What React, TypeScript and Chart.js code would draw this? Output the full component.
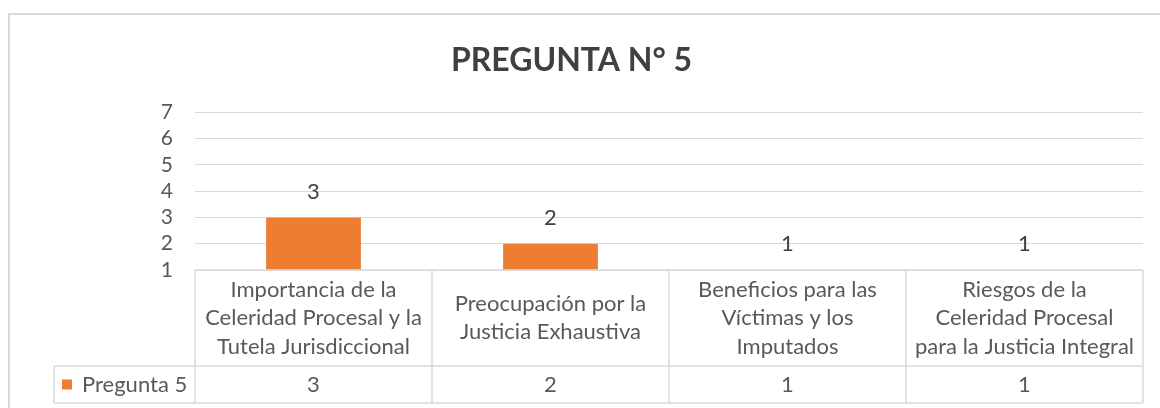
import React, { useEffect, useRef } from "react";
import { Chart, registerables } from "chart.js";

Chart.register(...registerables);

const titleText = "PREGUNTA N° 5";
const seriesName = "Pregunta 5";
const categories: string[][] = [
  ["Importancia de la", "Celeridad Procesal y la", "Tutela Jurisdiccional"],
  ["Preocupación por la", "Justicia Exhaustiva"],
  ["Beneficios para las", "Víctimas y los", "Imputados"],
  ["Riesgos de la", "Celeridad Procesal", "para la Justicia Integral"],
];
const values = [3, 2, 1, 1];
const yMin = 1;
const yMax = 7;
const yStep = 1;

const BAR_COLOR = "#ED7D31";
const TEXT = "#595959";
const LINE = "#d9d9d9";
const FONT = "Lato, 'Open Sans', sans-serif";

const tablePlugin = {
  id: "tablePlugin",
  afterDraw(chart: any) {
    const ctx = chart.ctx;
    const area = chart.chartArea;
    const xs = chart.scales.x;
    const n = categories.length;
    const cw = (area.right - area.left) / n;
    const headTop = area.bottom;
    const rowTop = headTop + 96;
    const rowBottom = rowTop + 37;
    const legendLeft = 54;

    ctx.save();
    // outer chart border
    ctx.strokeStyle = LINE;
    ctx.lineWidth = 2;
    ctx.strokeRect(9, 14, 1170, 420);

    // data labels
    const meta = chart.getDatasetMeta(0);
    ctx.fillStyle = "#404040";
    ctx.font = `22px ${FONT}`;
    ctx.textAlign = "center";
    ctx.textBaseline = "middle";
    meta.data.forEach((bar: any, i: number) => {
      ctx.fillText(String(values[i]), bar.x, bar.y - 26);
    });

    // table lines
    ctx.strokeStyle = LINE;
    ctx.lineWidth = 1.5;
    ctx.beginPath();
    ctx.moveTo(area.left, headTop);
    ctx.lineTo(area.right, headTop);
    ctx.moveTo(legendLeft, rowTop);
    ctx.lineTo(area.right, rowTop);
    ctx.moveTo(legendLeft, rowBottom);
    ctx.lineTo(area.right, rowBottom);
    ctx.moveTo(legendLeft, rowTop);
    ctx.lineTo(legendLeft, rowBottom);
    for (let i = 0; i <= n; i++) {
      const x = Math.round(i < n ? xs.getPixelForValue(i) - cw / 2 : xs.getPixelForValue(n - 1) + cw / 2);
      ctx.moveTo(x, headTop);
      ctx.lineTo(x, rowBottom);
    }
    ctx.stroke();

    // header text
    ctx.fillStyle = TEXT;
    ctx.font = `22px ${FONT}`;
    const lh = 28.5;
    const headMid = (headTop + rowTop) / 2;
    categories.forEach((lines, i) => {
      const cx = xs.getPixelForValue(i);
      const y0 = headMid - ((lines.length - 1) * lh) / 2;
      lines.forEach((l, j) => ctx.fillText(l, cx, y0 + j * lh));
    });

    // values row
    const rowMid = (rowTop + rowBottom) / 2;
    values.forEach((v, i) => {
      ctx.fillText(String(v), xs.getPixelForValue(i), rowMid);
    });

    // legend cell
    ctx.fillStyle = BAR_COLOR;
    ctx.fillRect(62, rowMid - 5, 10, 10);
    ctx.fillStyle = TEXT;
    ctx.textAlign = "left";
    ctx.font = `22px ${FONT}`;
    ctx.fillText(seriesName, 82, rowMid);
    ctx.restore();
  },
};

export default function App() {
  const ref = useRef<HTMLCanvasElement | null>(null);
  useEffect(() => {
    if (!ref.current) return;
    Chart.defaults.font.family = FONT;
    const chart = new Chart(ref.current, {
      type: "bar",
      data: {
        labels: categories,
        datasets: [
          {
            label: seriesName,
            data: values,
            backgroundColor: BAR_COLOR,
            barPercentage: 0.4,
            categoryPercentage: 1,
          },
        ],
      },
      options: {
        animation: false,
        responsive: false,
        layout: { padding: { left: 0, right: 17, top: 0, bottom: 0 } },
        plugins: {
          legend: { display: false },
          tooltip: { enabled: false },
          title: {
            display: true,
            text: titleText,
            color: "#404040",
            font: { family: FONT, size: 32, weight: "bold", lineHeight: 1.2 },
            padding: { top: 41, bottom: 33 },
          },
        },
        scales: {
          x: {
            grid: { display: false },
            border: { display: false },
            ticks: { display: false },
            afterFit: (s: any) => {
              s.height = 138;
            },
          },
          y: {
            min: yMin,
            max: yMax,
            grid: { color: LINE, lineWidth: 1, drawTicks: false },
            border: { display: false },
            ticks: {
              stepSize: yStep,
              autoSkip: false,
              color: TEXT,
              padding: 22,
              font: { family: FONT, size: 21, lineHeight: 1 },
            },
            afterFit: (s: any) => {
              s.width = 195;
            },
          },
        },
      },
      plugins: [tablePlugin],
    });
    return () => chart.destroy();
  }, []);
  return (
    <div style={{ position: "absolute", left: 0, top: 0, width: 1160, height: 408 }}>
      <canvas ref={ref} width={1160} height={408} />
    </div>
  );
}
